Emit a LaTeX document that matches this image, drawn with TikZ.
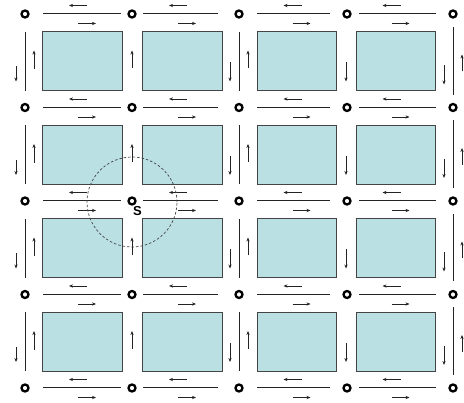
\documentclass[tikz,border=0pt]{standalone}
\usepackage{fontspec}
\setsansfont{Liberation Sans}
\usetikzlibrary{arrows.meta,calc}
\definecolor{block}{RGB}{186,224,227}
\definecolor{ink}{RGB}{35,35,35}
\begin{document}
\begin{tikzpicture}[x=1pt,y=-1pt,
  junc/.style={circle,draw=black,line width=2.3pt,minimum size=7pt,inner sep=0pt},
  blockbox/.style={draw=ink!85,line width=1pt,fill=block,inner sep=0pt,minimum height=59pt},
  road/.style={draw=ink,line width=1pt},
  flow/.style={draw=ink,line width=0.85pt,-{Stealth[length=4pt,width=3.2pt]}},
  zone/.style={circle,draw=ink!85,line width=0.7pt,dash pattern=on 2.5pt off 2pt,minimum size=90pt,inner sep=0pt},
  tag/.style={font=\sffamily\bfseries\fontsize{13}{13}\selectfont,inner sep=0pt}
]
\useasboundingbox[fill=white] (0,0) rectangle (464,403);

% blocks
\foreach \cx/\w [count=\i] in {82/80,182/80,296.5/79,395.5/79}
  \foreach \cy [count=\j] in {61.5,155,248.5,342}
    \node[blockbox,minimum width=\w pt] (r\i\j) at (\cx,\cy) {};

% junctions
\foreach \x [count=\i] in {25,132,239,347,453}
  \foreach \y [count=\j] in {14,107.5,201,294.5,388}
    \node[junc] (c\i\j) at (\x,\y) {};

% horizontal roads and flows
\foreach \a/\b/\m in {43/121/82,143/218/182,257/330/296.5,359/436/395.5}
  \foreach \y in {14,107.5,201,294.5,388}{
    \draw[road] (\a,\y) -- (\b,\y);
    \draw[flow] (\m+5,\y-8.5) -- (\m-13,\y-8.5);
    \draw[flow] (\m-4,\y+9.5) -- (\m+14,\y+9.5);
  }

% vertical roads
\foreach \t/\b in {32/91,125.5/184.5,219/278,312.5/371.5}{
  \draw[road] (25,\t) -- (25,\b);
  \draw[road] (239,\t) -- (239,\b);
}
\foreach \t/\b in {27/95,120.5/188.5,214/281.5,307.5/375}
  \draw[road] (453,\t) -- (453,\b);

% vertical flows
\foreach \rc in {61.5,155,248.5,342}{
  \draw[flow] (16,\rc+5) -- (16,\rc+20);
  \draw[flow] (34,\rc+8) -- (34,\rc-11);
  \draw[flow] (132,\rc+7) -- (132,\rc-11);
  \draw[flow] (230,\rc+1) -- (230,\rc+20);
  \draw[flow] (248,\rc+7) -- (248,\rc-11);
  \draw[flow] (346,\rc+1) -- (346,\rc+20);
  \draw[flow] (444,\rc+4) -- (444,\rc+23);
  \draw[flow] (462,\rc+10) -- (462,\rc-7);
}

% study zone
\node[zone] (area) at ($(c23)+(0,1)$) {};
\node[tag] (s) at (137.5,211.5) {S};
\end{tikzpicture}
\end{document}
